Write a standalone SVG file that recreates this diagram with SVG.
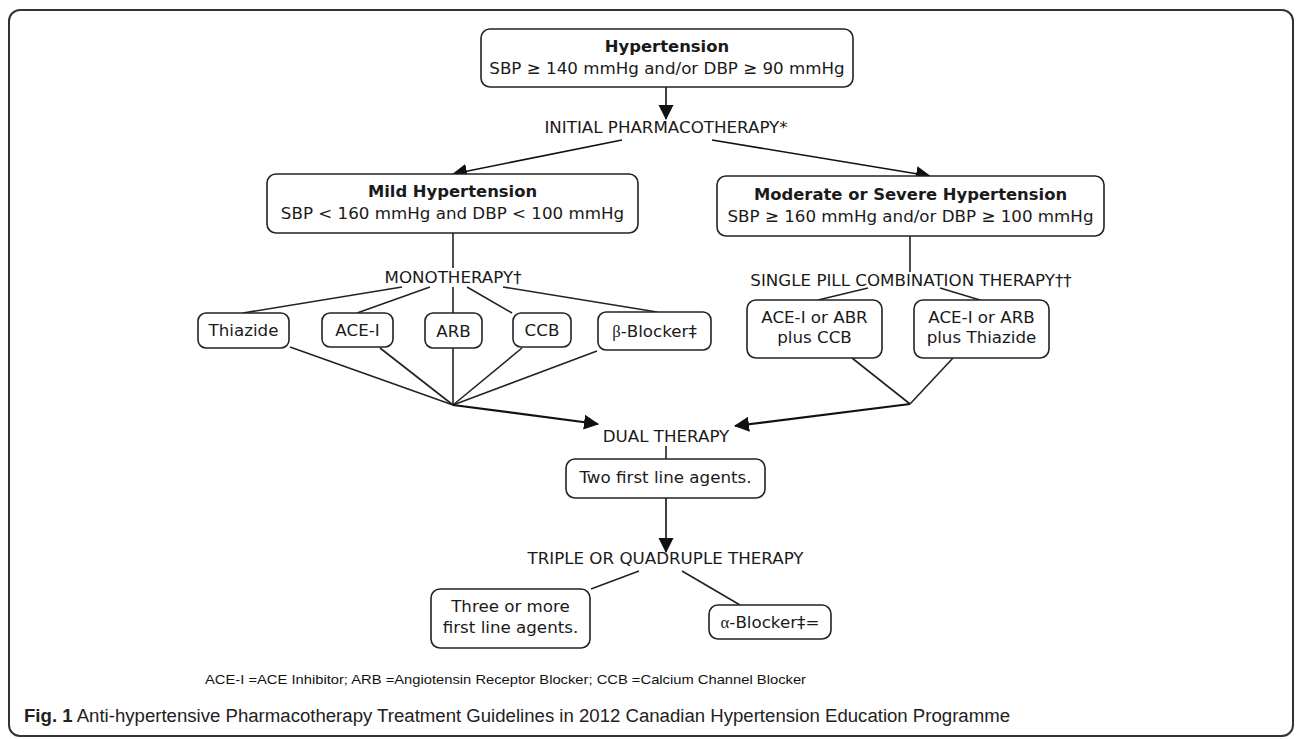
<svg xmlns="http://www.w3.org/2000/svg" width="1296" height="739" viewBox="0 0 1296 739">
<style>
  .box { fill: #fff; stroke: #222; stroke-width: 1.6; }
  .ln { fill: none; stroke: #222; stroke-width: 1.6; }
  .arr { fill: none; stroke: #111; stroke-width: 1.6; marker-end: url(#ah); }
  .arrb { fill: none; stroke: #111; stroke-width: 2.2; marker-end: url(#ah); }
  .t { font-family: "DejaVu Sans", Verdana, sans-serif; font-size: 16.7px; fill: #1a1a1a; text-anchor: middle; }
  .b { font-weight: bold; font-size: 16.4px; }
  .g { font-family: "Liberation Serif", serif; }
  .fn { font-family: "Liberation Sans", Arial, sans-serif; font-size: 13.5px; fill: #111; }
  .cap { font-family: "Liberation Sans", Arial, sans-serif; font-size: 18px; fill: #222; }
</style>
<defs>
  <marker id="ah" markerUnits="userSpaceOnUse" markerWidth="16" markerHeight="16" refX="14" refY="7.5" orient="auto" viewBox="0 0 16 16">
    <path d="M0,0 L15,7.5 L0,15 Z" fill="#111"/>
  </marker>
</defs>
<rect x="0" y="0" width="1296" height="739" fill="#fff"/>
<rect x="9" y="10" width="1284" height="726" rx="11" fill="none" stroke="#333" stroke-width="2"/>

<g id="connectors">
  <line class="arr" x1="666" y1="87" x2="666" y2="119"/>
  <line class="arr" x1="622" y1="140" x2="453" y2="174"/>
  <line class="arr" x1="712" y1="140" x2="930" y2="176"/>
  <line class="ln" x1="453" y1="233" x2="453" y2="268"/>
  <line class="ln" x1="453" y1="287" x2="453" y2="313"/>
  <line class="ln" x1="910" y1="236" x2="910" y2="272"/>
  <line class="ln" x1="402" y1="287" x2="243" y2="313"/>
  <line class="ln" x1="430" y1="287" x2="357" y2="313"/>
  <line class="ln" x1="467" y1="287" x2="512" y2="313"/>
  <line class="ln" x1="503" y1="287" x2="657" y2="312"/>
  <line class="ln" x1="290" y1="347" x2="453" y2="405"/>
  <line class="ln" x1="380" y1="348" x2="453" y2="405"/>
  <line class="ln" x1="453" y1="348" x2="453" y2="405"/>
  <line class="ln" x1="522" y1="348" x2="453" y2="405"/>
  <line class="ln" x1="597" y1="351" x2="453" y2="405"/>
  <line class="arrb" x1="453" y1="405" x2="598" y2="424"/>
  <line class="ln" x1="868" y1="288" x2="818" y2="300"/>
  <line class="ln" x1="940" y1="288" x2="980" y2="300"/>
  <line class="ln" x1="852" y1="358" x2="910" y2="404"/>
  <line class="ln" x1="953" y1="358" x2="910" y2="404"/>
  <line class="arrb" x1="910" y1="404" x2="735" y2="426"/>
  <line class="ln" x1="666" y1="446" x2="666" y2="459"/>
  <line class="arr" x1="666" y1="498" x2="666" y2="552"/>
  <line class="ln" x1="639" y1="571" x2="591" y2="589"/>
  <line class="ln" x1="682" y1="571" x2="740" y2="605"/>
</g>

<g id="hypertension">
  <rect class="box" x="481" y="29" width="372" height="58" rx="9"/>
  <text class="t b" x="667" y="52">Hypertension</text>
  <text class="t" x="667" y="74">SBP ≥ 140 mmHg and/or DBP ≥ 90 mmHg</text>
</g>
<g id="initial">
  <text class="t" x="666" y="133">INITIAL PHARMACOTHERAPY*</text>
</g>
<g id="mild">
  <rect class="box" x="267" y="174" width="371" height="59" rx="9"/>
  <text class="t b" x="452.5" y="197">Mild Hypertension</text>
  <text class="t" x="452.5" y="219">SBP &lt; 160 mmHg and DBP &lt; 100 mmHg</text>
</g>
<g id="moderate">
  <rect class="box" x="717" y="176" width="387" height="60" rx="9"/>
  <text class="t b" x="910.5" y="200">Moderate or Severe Hypertension</text>
  <text class="t" x="910.5" y="222">SBP ≥ 160 mmHg and/or DBP ≥ 100 mmHg</text>
</g>
<g id="monotherapy">
  <text class="t" x="453" y="283">MONOTHERAPY†</text>
</g>
<g id="singlepill">
  <text class="t" x="911" y="286">SINGLE PILL COMBINATION THERAPY††</text>
</g>
<g id="thiazide">
  <rect class="box" x="198" y="313" width="91" height="35" rx="8"/>
  <text class="t" x="243.5" y="336">Thiazide</text>
</g>
<g id="acei">
  <rect class="box" x="322" y="313" width="71" height="34" rx="8"/>
  <text class="t" x="357.5" y="336">ACE-I</text>
</g>
<g id="arb">
  <rect class="box" x="425" y="313" width="57" height="35" rx="8"/>
  <text class="t" x="453.5" y="337">ARB</text>
</g>
<g id="ccb">
  <rect class="box" x="513" y="313" width="58" height="34" rx="8"/>
  <text class="t" x="542" y="336">CCB</text>
</g>
<g id="betablocker">
  <rect class="box" x="598" y="312" width="113" height="38" rx="8"/>
  <text class="t" x="654.5" y="337"><tspan class="g">β</tspan>-Blocker‡</text>
</g>
<g id="combo-ccb">
  <rect class="box" x="747" y="300" width="135" height="58" rx="9"/>
  <text class="t" x="814.5" y="323">ACE-I or ABR</text>
  <text class="t" x="814.5" y="343">plus CCB</text>
</g>
<g id="combo-thiazide">
  <rect class="box" x="914" y="300" width="135" height="58" rx="9"/>
  <text class="t" x="981.5" y="323">ACE-I or ARB</text>
  <text class="t" x="981.5" y="343">plus Thiazide</text>
</g>
<g id="dual">
  <text class="t" x="666" y="442">DUAL THERAPY</text>
</g>
<g id="two-agents">
  <rect class="box" x="566" y="459" width="199" height="39" rx="9"/>
  <text class="t" x="665.5" y="483">Two first line agents.</text>
</g>
<g id="triple">
  <text class="t" x="665.5" y="564">TRIPLE OR QUADRUPLE THERAPY</text>
</g>
<g id="three-agents">
  <rect class="box" x="431" y="589" width="159" height="59" rx="9"/>
  <text class="t" x="510.5" y="612">Three or more</text>
  <text class="t" x="510.5" y="633">first line agents.</text>
</g>
<g id="alphablocker">
  <rect class="box" x="709" y="605" width="122" height="34" rx="9"/>
  <text class="t" x="770" y="628"><tspan class="g">α</tspan>-Blocker‡=</text>
</g>
<g id="footnote">
  <text class="fn" x="205" y="684" textLength="601" lengthAdjust="spacingAndGlyphs">ACE-I =ACE Inhibitor; ARB =Angiotensin Receptor Blocker; CCB =Calcium Channel Blocker</text>
</g>
<g id="caption">
  <text class="cap" x="24" y="722" textLength="986" lengthAdjust="spacingAndGlyphs"><tspan font-weight="bold">Fig. 1</tspan> Anti-hypertensive Pharmacotherapy Treatment Guidelines in 2012 Canadian Hypertension Education Programme</text>
</g>
</svg>
